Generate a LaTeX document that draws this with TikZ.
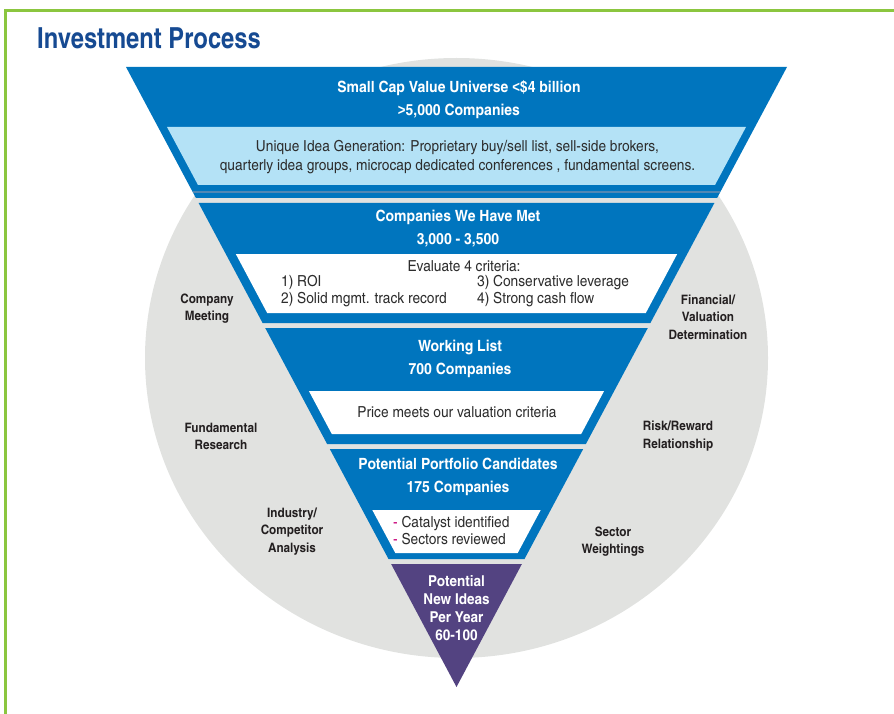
\documentclass[tikz,border=0pt]{standalone}
\usepackage{fontspec}
\setmainfont{texgyreheroscn}[Extension=.otf, UprightFont=*-regular, BoldFont=*-bold, FakeStretch=1.1]
\newfontfamily\headfont{texgyreheroscn}[Extension=.otf, UprightFont=*-regular, BoldFont=*-bold]
\newfontfamily\relfont{Liberation Sans}[FakeStretch=0.85]
\usepackage{xcolor}
\usepackage{tikz}
\usetikzlibrary{positioning}

\definecolor{funnelblue}{RGB}{0,117,190}
\definecolor{ideablue}{RGB}{180,226,246}
\definecolor{seamblue}{RGB}{80,135,180}
\definecolor{ringgray}{RGB}{225,226,224}
\definecolor{ideapurple}{RGB}{83,67,129}
\definecolor{titleblue}{RGB}{22,74,146}
\definecolor{framegreen}{RGB}{139,198,63}
\definecolor{bodytext}{RGB}{45,45,45}
\definecolor{labeltext}{RGB}{35,31,32}
\definecolor{dashpink}{RGB}{200,0,120}

\tikzset{
  bandtitle/.style={inner sep=0pt, align=center, text=white,
    font=\bfseries\fontsize{15.5}{23}\selectfont},
  boxtext/.style={inner sep=0pt, text=bodytext,
    font=\fontsize{15.2}{17}\selectfont},
  sidelabel/.style={inner sep=0pt, align=center, text=labeltext,
    font=\bfseries\fontsize{13}{17.5}\selectfont},
  tiptext/.style={inner sep=0pt, align=center, text=white,
    font=\bfseries\fontsize{15}{18}\selectfont},
}

\begin{document}
\begin{tikzpicture}[x=1pt, y=-1pt]
  \useasboundingbox (0,0) rectangle (894,714);

  % frame, only its top and left edges show
  \draw[framegreen, line width=3pt] (5.5,714) -- (5.5,10.5) -- (894,10.5);
  \node[anchor=west, inner sep=0pt, text=titleblue,
    font=\headfont\bfseries\fontsize{29}{30}\selectfont] (heading) at (37,38.5) {Investment Process};

  % grey ring behind the funnel
  \fill[ringgray] (456.5,358) ellipse [x radius=311.5, y radius=300];

  % Universe band
  \fill[funnelblue] (126,67) -- (787,67) -- (717.1,198) -- (195.9,198) -- cycle;
  \fill[ideablue] (167,127) -- (746,127) -- (715,185) -- (198,185) -- cycle;
  \draw[seamblue, line width=1.5pt] (192.7,192) -- (720.3,192);

  % Companies met
  \fill[funnelblue] (198.6,203) -- (714.4,203) -- (650.4,323) -- (262.6,323) -- cycle;
  \fill[white] (235.8,254) -- (677.2,254) -- (645.8,313) -- (267.2,313) -- cycle;

  % Working list
  \fill[funnelblue] (265.2,328) -- (647.8,328) -- (585.9,444) -- (327.1,444) -- cycle;
  \fill[white] (308.9,391) -- (604.1,391) -- (581.2,434) -- (331.8,434) -- cycle;

  % Candidates
  \fill[funnelblue] (329.8,449) -- (583.2,449) -- (524.5,559) -- (388.5,559) -- cycle;
  \fill[white] (372.3,510) -- (540.7,510) -- (517.7,553) -- (395.3,553) -- cycle;

  % New ideas tip
  \fill[ideapurple] (391.1,564) -- (521.9,564) -- (456.5,687) -- cycle;

  % band texts
  \node[bandtitle] (universe) at (459,99.5) {Small Cap Value Universe {\relfont <}\$4 billion\\{\relfont >}5,000 Companies};
  \node[boxtext, align=center, font=\fontsize{15.2}{19}\selectfont] (sources) at (457.5,157.5)
    {Unique Idea Generation: Proprietary buy/sell list, sell-side brokers,\\quarterly idea groups, microcap dedicated conferences , fundamental screens.};

  \node[bandtitle] (met) at (458,228.5) {Companies We Have Met\\3,000 - 3,500};
  \node[boxtext] (evaluate) at (464,266) {Evaluate 4 criteria:};
  \node[boxtext, align=left, anchor=west] (critleft) at (281,291.5) {1) ROI\\2) Solid mgmt. track record};
  \node[boxtext, align=left, anchor=west] (critright) at (477,291.5) {3) Conservative leverage\\4) Strong cash flow};

  \node[bandtitle] (working) at (460,358.5) {Working List\\700 Companies};
  \node[boxtext] (valuation) at (457,412) {Price meets our valuation criteria};

  \node[bandtitle] (candidates) at (458,476.5) {Potential Portfolio Candidates\\175 Companies};
  \node[boxtext, align=left, anchor=west] (checks) at (393,531)
    {\textcolor{dashpink}{-} Catalyst identified\\\textcolor{dashpink}{-} Sectors reviewed};

  \node[tiptext] (newideas) at (456.5,608) {Potential\\New Ideas\\Per Year\\60-100};

  % labels on the ring
  \node[sidelabel] (meeting) at (207,308.5) {Company\\Meeting};
  \node[sidelabel] (financial) at (708,317) {Financial/\\Valuation\\Determination};
  \node[sidelabel] (research) at (221,436.5) {Fundamental\\Research};
  \node[sidelabel] (riskreward) at (678,436) {Risk/Reward\\Relationship};
  \node[sidelabel] (industry) at (292,531.5) {Industry/\\Competitor\\Analysis};
  \node[sidelabel] (sector) at (613,541.5) {Sector\\Weightings};
\end{tikzpicture}
\end{document}
